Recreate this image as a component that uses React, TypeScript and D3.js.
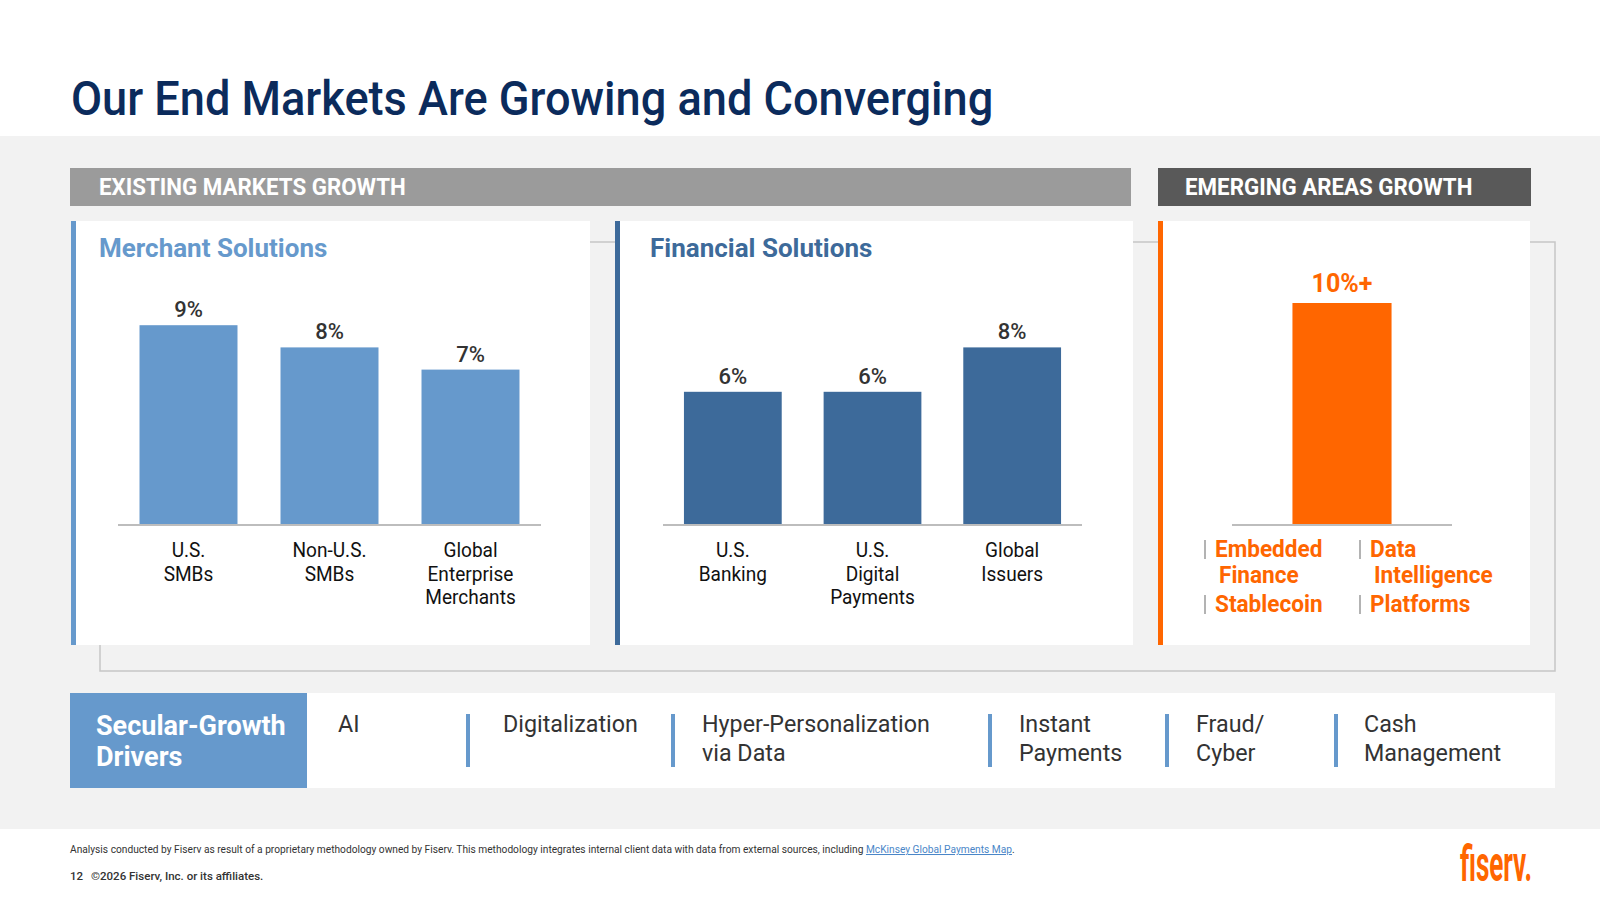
import { useLayoutEffect, useRef } from "react";
import * as d3 from "d3";

// growth rates (%), one array per panel
const merchantCategories = ["U.S.\nSMBs", "Non-U.S.\nSMBs", "Global\nEnterprise\nMerchants"];
const merchantGrowth = [9, 8, 7];

const financialCategories = ["U.S.\nBanking", "U.S.\nDigital\nPayments", "Global\nIssuers"];
const financialGrowth = [6, 6, 8];

const emergingCategories = ["Emerging"];
const emergingGrowth = [10];
const emergingLabel = "10%+";
const emergingAreas = ["Embedded\nFinance", "Data\nIntelligence", "Stablecoin", "Platforms"];

const drivers = ["AI", "Digitalization", "Hyper-Personalization\nvia Data", "Instant\nPayments", "Fraud/\nCyber", "Cash\nManagement"];

const FONT = "Roboto, 'Noto Sans', sans-serif";
const MERCHANT = "#6699cc";
const FINANCIAL = "#3d6a9a";
const ORANGE = "#ff6600";
const NAVY = "#0b2b5c";

// text with optional horizontal squeeze (measured after mount)
function NText({ squeeze = 1, children, ...rest }: any) {
  const ref = useRef<SVGTextElement>(null);
  useLayoutEffect(() => {
    const el = ref.current;
    if (!el || squeeze === 1) return;
    el.removeAttribute("textLength");
    const w = el.getComputedTextLength();
    el.setAttribute("textLength", String(w * squeeze));
    el.setAttribute("lengthAdjust", "spacingAndGlyphs");
  });
  return (
    <text ref={ref} fontFamily={FONT} {...rest}>
      {children}
    </text>
  );
}

const y = d3.scaleLinear().domain([0, 10]).range([525, 303]);

function BarPanel({ categories, values, range, color, padIn, padOut, labels, labelColor, labelSize, labelWeight, showCategories = true }: any) {
  const x = d3.scaleBand<string>().domain(categories).range(range).paddingInner(padIn).paddingOuter(padOut);
  const [r0, r1] = x.range();
  return (
    <g>
      {categories.map((c: string, i: number) => (
        <rect key={c} x={x(c)} y={y(values[i])} width={x.bandwidth()} height={y(0) - y(values[i])} fill={color} />
      ))}
      <line x1={r0} x2={r1} y1={y(0)} y2={y(0)} stroke="#bdbdbd" strokeWidth={2} />
      {categories.map((c: string, i: number) => (
        <NText
          key={"v" + c}
          x={(x(c) as number) + x.bandwidth() / 2}
          y={y(values[i]) - (labelSize > 23 ? 11 : 8)}
          textAnchor="middle"
          fontSize={labelSize}
          fontWeight={labelWeight}
          fill={labelColor}
        >
          {labels ? labels[i] : `${values[i]}%`}
        </NText>
      ))}
      {showCategories &&
        categories.map((c: string) =>
          c.split("\n").map((line, j) => (
            <NText
              key={c + j}
              x={(x(c) as number) + x.bandwidth() / 2}
              y={y(0) + 32 + j * 23.5}
              textAnchor="middle"
              fontSize={20.5}
              fill="#111"
              squeeze={0.93}
            >
              {line}
            </NText>
          ))
        )}
    </g>
  );
}

const driverX = [338, 503, 702, 1019, 1196, 1364];
const dividerX = [0, 468, 673, 990, 1167, 1336];
const areaPos = [
  [1205, 557],
  [1360, 557],
  [1205, 612],
  [1360, 612],
];

export default function App() {
  return (
    <div style={{ position: "absolute", left: 0, top: 0 }}>
      <svg width={1600} height={900} style={{ display: "block" }}>
        <rect x={0} y={0} width={1600} height={900} fill="#fff" />
        <rect x={0} y={136} width={1600} height={693} fill="#f2f2f2" />

        <NText x={71} y={115} fontSize={48} fontWeight={500} fill={NAVY} squeeze={0.94}>
          Our End Markets Are Growing and Converging
        </NText>

        {/* section headers */}
        <rect x={70} y={168} width={1061} height={38} fill="#9b9b9b" />
        <NText x={99} y={195} fontSize={23} fontWeight={700} fill="#fff" squeeze={0.97}>
          EXISTING MARKETS GROWTH
        </NText>
        <rect x={1158} y={168} width={373} height={38} fill="#595959" />
        <NText x={1185} y={195} fontSize={23} fontWeight={700} fill="#fff" squeeze={0.97}>
          EMERGING AREAS GROWTH
        </NText>

        {/* outline box behind panels */}
        <rect x={100} y={242} width={1455} height={429} fill="none" stroke="#c6c6c6" strokeWidth={1.5} />

        {/* panels */}
        <rect x={76} y={221} width={514} height={424} fill="#fff" />
        <rect x={71} y={221} width={5} height={424} fill={MERCHANT} />
        <rect x={620} y={221} width={513} height={424} fill="#fff" />
        <rect x={615} y={221} width={5} height={424} fill={FINANCIAL} />
        <rect x={1163} y={221} width={367} height={424} fill="#fff" />
        <rect x={1158} y={221} width={5} height={424} fill={ORANGE} />

        <NText x={99} y={257} fontSize={26} fontWeight={700} fill={MERCHANT}>
          Merchant Solutions
        </NText>
        <NText x={650} y={257} fontSize={26} fontWeight={700} fill={FINANCIAL}>
          Financial Solutions
        </NText>

        <BarPanel
          categories={merchantCategories}
          values={merchantGrowth}
          range={[118, 541]}
          color={MERCHANT}
          padIn={0.305}
          padOut={0.1525}
          labelColor="#333"
          labelSize={22}
          labelWeight={500}
        />
        <BarPanel
          categories={financialCategories}
          values={financialGrowth}
          range={[663, 1082]}
          color={FINANCIAL}
          padIn={0.3}
          padOut={0.15}
          labelColor="#333"
          labelSize={22}
          labelWeight={500}
        />
        <BarPanel
          categories={emergingCategories}
          values={emergingGrowth}
          range={[1232, 1452]}
          color={ORANGE}
          padIn={0}
          padOut={0.61}
          labels={[emergingLabel]}
          labelColor={ORANGE}
          labelSize={25}
          labelWeight={700}
          showCategories={false}
        />

        {emergingAreas.map((a, i) => {
          const [ax, ay] = areaPos[i];
          return (
            <g key={a}>
              <rect x={ax - 1} y={ay - 17} width={2} height={19} fill="#b3b3b3" />
              {a.split("\n").map((line, j) => (
                <NText key={line} x={ax + 10 + (j > 0 ? 4 : 0)} y={ay + j * 26} fontSize={24} fontWeight={700} fill={ORANGE} squeeze={0.94}>
                  {line}
                </NText>
              ))}
            </g>
          );
        })}

        {/* secular-growth drivers strip */}
        <rect x={70} y={693} width={1485} height={95} fill="#fff" />
        <rect x={70} y={693} width={237} height={95} fill={MERCHANT} />
        <NText x={96} y={735} fontSize={27} fontWeight={700} fill="#fff">
          Secular-Growth
        </NText>
        <NText x={96} y={766} fontSize={27} fontWeight={700} fill="#fff">
          Drivers
        </NText>
        {drivers.map((d, i) => (
          <g key={d}>
            {i > 0 && <rect x={dividerX[i] - 2} y={714} width={4} height={53} fill={MERCHANT} />}
            {d.split("\n").map((line, j) => (
              <NText key={line} x={driverX[i]} y={732 + j * 29} fontSize={24} fill="#333" squeeze={0.97}>
                {line}
              </NText>
            ))}
          </g>
        ))}

        {/* footer */}
        <NText x={70} y={853} fontSize={10.2} fill="#333">
          Analysis conducted by Fiserv as result of a proprietary methodology owned by Fiserv. This methodology integrates internal client data with data from external sources, including{" "}
          <tspan fill="#4a86c8" textDecoration="underline">McKinsey Global Payments Map</tspan>.
        </NText>
        <NText x={70} y={880} fontSize={11.5} fontWeight={500} fill="#333">
          12
        </NText>
        <NText x={91} y={880} fontSize={11.5} fontWeight={500} fill="#333">
          ©2026 Fiserv, Inc. or its affiliates.
        </NText>
        <text x={1460} y={881} fontFamily={FONT} fontSize={50} fontWeight={700} fill={ORANGE} textLength={72} lengthAdjust="spacingAndGlyphs">
          fiserv.
        </text>
      </svg>
    </div>
  );
}
